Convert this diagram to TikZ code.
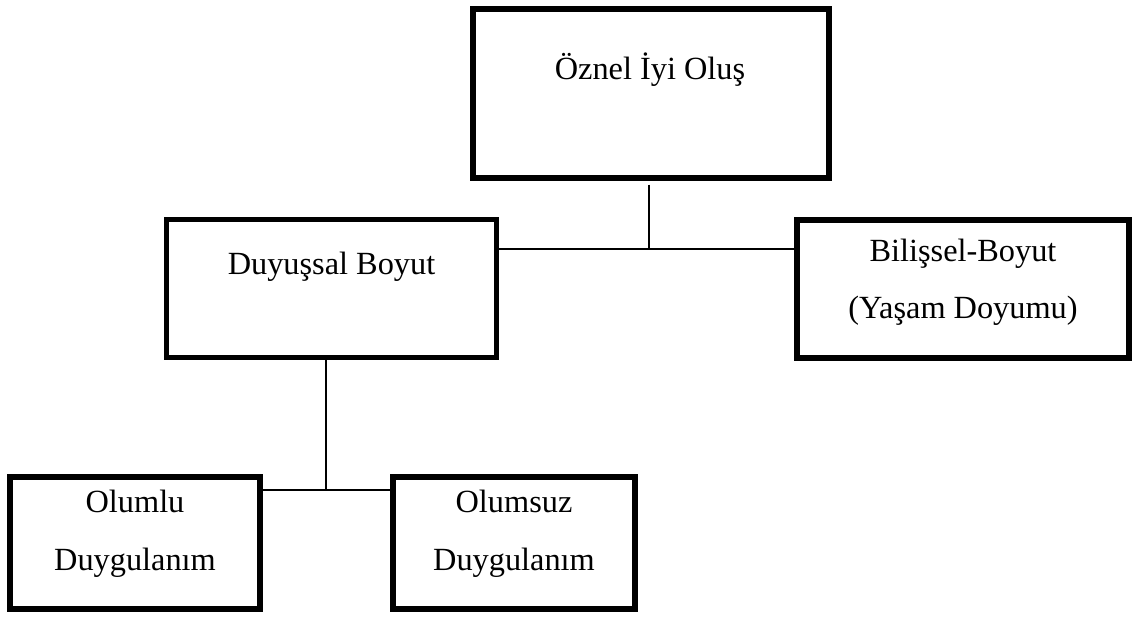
\documentclass[tikz,border=0pt]{standalone}
\usepackage{fontspec}
\setmainfont{Liberation Serif}

\begin{document}
\begin{tikzpicture}[
    box/.style={draw, line width=3.1pt, inner sep=0pt},
    txt/.style={inner sep=0pt, align=center, anchor=base,
      font=\fontsize{18.4}{33}\selectfont},
    link/.style={line width=1pt}]
  \useasboundingbox (0,0) rectangle (22.66,12.38);

  \node[box, minimum width=7.12cm, minimum height=3.38cm] (oznel) at (13.02,10.51) {};
  \node[box, minimum width=6.6cm, minimum height=2.76cm] (duyussal) at (6.63,6.61) {};
  \node[box, minimum width=6.64cm, minimum height=2.76cm] (bilissel) at (19.26,6.60) {};
  \node[box, minimum width=5cm, minimum height=2.64cm] (olumlu) at (2.70,1.52) {};
  \node[box, minimum width=4.84cm, minimum height=2.64cm] (olumsuz) at (10.28,1.52) {};

  % base of a two-line node is its last line
  \node[txt] (oznelLbl) at (13.0,10.78) {Öznel İyi Oluş};
  \node[txt] (duyussalLbl) at (6.63,6.88) {Duyuşsal Boyut};
  \node[txt] (bilisselLbl) at (19.26,6.00) {Bilişsel-Boyut\\(Yaşam Doyumu)};
  \node[txt] (olumluLbl) at (2.70,0.97) {Olumlu\\Duygulanım};
  \node[txt] (olumsuzLbl) at (10.28,0.97) {Olumsuz\\Duygulanım};

  \coordinate (hubTop) at (12.98,7.40);
  \coordinate (hubLow) at (6.52,2.58);
  \draw[link, shorten <=0.08cm] (hubTop |- oznel.south) -- (hubTop);
  \draw[link] (duyussal.east |- hubTop) -- (bilissel.west |- hubTop);
  \draw[link] (hubLow |- duyussal.south) -- (hubLow);
  \draw[link] (olumlu.east |- hubLow) -- (olumsuz.west |- hubLow);
\end{tikzpicture}
\end{document}
